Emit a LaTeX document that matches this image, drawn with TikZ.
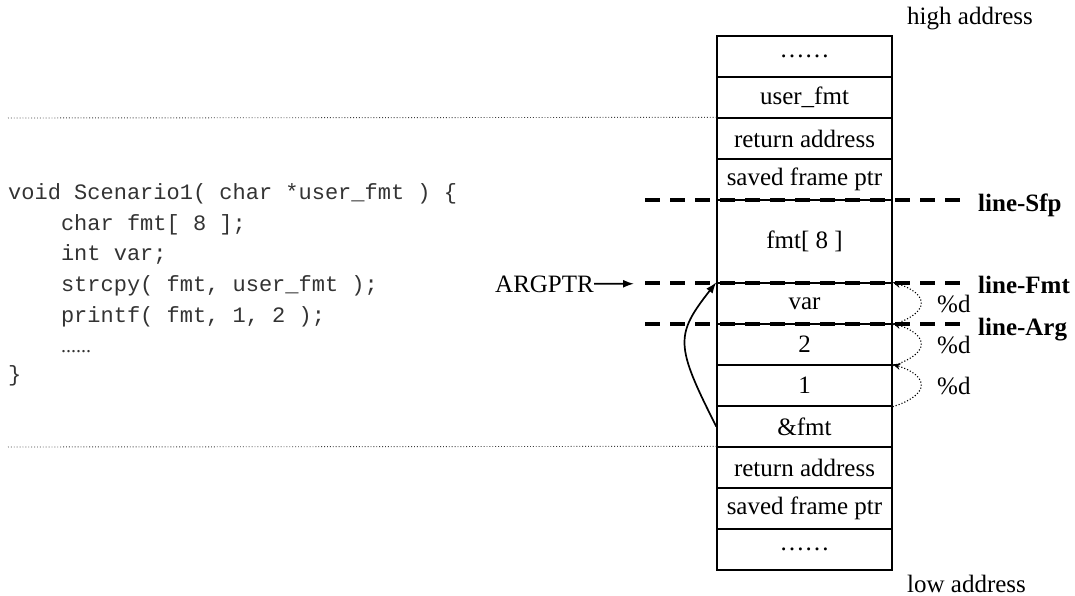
\documentclass[tikz,border=0pt]{standalone}
\usepackage{fontspec}
\setmainfont{Liberation Serif}
\setmonofont{Liberation Mono}
\usetikzlibrary{arrows.meta}

\begin{document}
\begin{tikzpicture}[x=1pt,y=-1pt,
  cell/.style={draw, line width=1.4pt, minimum width=175pt, minimum height=41pt,
    inner sep=0pt, font=\fontsize{25}{30}\selectfont},
  txt/.style={inner sep=0pt, anchor=base west, font=\fontsize{25}{30}\selectfont},
  boldlbl/.style={txt, font=\fontsize{25}{30}\selectfont\bfseries},
  codeline/.style={inner sep=0pt, anchor=base west, text=black!80,
    font=\fontsize{22}{30}\ttfamily},
  marker/.style={line width=3.8pt, dash pattern=on 15pt off 10pt},
  sep/.style={line width=0.9pt, dotted, black!75},
  ptr/.style={line width=1.7pt, -{Latex[length=11pt,width=8pt]}},
  hop/.style={line width=1.1pt, dotted, -{Stealth[length=8pt,width=6.5pt]}}
]
\useasboundingbox (0,0) rectangle (1075,596);

% source code of the scenario
\node[codeline] (c1) at (8,199)   {void Scenario1( char *user\_fmt ) \{};
\node[codeline] (c2) at (8,230)   {\phantom{0000}char fmt[ 8 ];};
\node[codeline] (c3) at (8,260.5) {\phantom{0000}int var;};
\node[codeline] (c4) at (8,291)   {\phantom{0000}strcpy( fmt, user\_fmt );};
\node[codeline] (c5) at (8,322)   {\phantom{0000}printf( fmt, 1, 2 );};
\node[codeline] (c6) at (8,352)   {\phantom{0000}{\rmfamily\fontsize{20}{24}\selectfont ......}};
\node[codeline] (c7) at (8,381)   {\}};

% stack cells, high address at the top
\node[cell] (r1)  at (804.5,56.5)  {……};
\node[cell] (r2)  at (804.5,97.5)  {user\_fmt};
\node[cell] (r3)  at (804.5,138.5) {return address};
\node[cell] (r4)  at (804.5,179.5) {saved frame ptr};
\node[cell, minimum height=83pt] (r5) at (804.5,241.5) {fmt[ 8 ]};
\node[cell] (r6)  at (804.5,303.5) {var};
\node[cell] (r7)  at (804.5,344.5) {2};
\node[cell] (r8)  at (804.5,385.5) {1};
\node[cell] (r9)  at (804.5,426.5) {\&fmt};
\node[cell] (r10) at (804.5,467.5) {return address};
\node[cell] (r11) at (804.5,508.5) {saved frame ptr};
\node[cell] (r12) at (804.5,549.5) {……};

\node[txt] (hi) at (907,25)  {high address};
\node[txt] (lo) at (907,592) {low address};

% frame separators
\coordinate (s1) at (8,118);
\coordinate (s2) at (8,447);
\draw[sep] (s1) -- (r3.north west);
\draw[sep] (s2) -- (r10.north west);

% marker lines
\coordinate (sfpA) at (645,200);
\coordinate (sfpB) at (962,200);
\coordinate (fmtA) at (645,283);
\coordinate (fmtB) at (962,283);
\coordinate (argA) at (645,324);
\coordinate (argB) at (962,324);
\draw[marker] (sfpA) -- (sfpB);
\draw[marker] (fmtA) -- (fmtB);
\draw[marker] (argA) -- (argB);
\node[boldlbl] (lsfp) at (978,211) {line-Sfp};
\node[boldlbl] (lfmt) at (978,293) {line-Fmt};
\node[boldlbl] (larg) at (978,335) {line-Arg};

% argument pointer
\node[txt] (argptr) at (495,292) {ARGPTR};
\coordinate (argtip) at (634,283.75);
\draw[ptr] (argptr.east) -- (argtip);

% &fmt points back to the buffer
\draw[ptr] (r9.west) .. controls (675,345) and (675,335) .. (r6.north west);

% each %d advances the argument pointer by one slot
\draw[hop] (r6.south east) .. controls (930,313) and (930,294) .. (r6.north east);
\draw[hop] (r7.south east) .. controls (930,354) and (930,335) .. (r7.north east);
\draw[hop] (r8.south east) .. controls (930,395) and (930,376) .. (r8.north east);
\node[txt] (d1) at (937,312) {\%d};
\node[txt] (d2) at (937,353) {\%d};
\node[txt] (d3) at (937,394) {\%d};
\end{tikzpicture}
\end{document}
